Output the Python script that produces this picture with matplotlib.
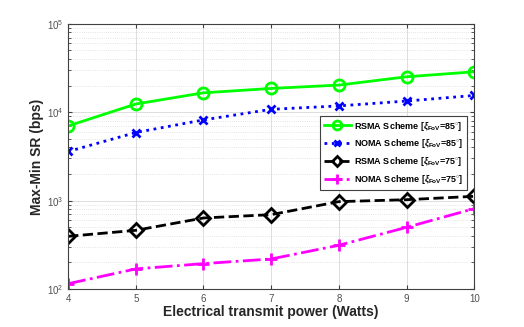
import matplotlib
matplotlib.use("Agg")
import matplotlib.pyplot as plt
import numpy as np

power = [4, 5, 6, 7, 8, 9, 10]
rsma_85 = [7000, 12400, 16600, 18600, 20300, 25200, 28700]
noma_85 = [3600, 5900, 8200, 10800, 11800, 13400, 15500]
rsma_75 = [395, 462, 637, 695, 975, 1026, 1120]
noma_75 = [115, 169, 194, 219, 313, 499, 813]

labels = [r'RSMA Scheme [$\xi_{\mathbf{FoV}}$=85$^{\circ}$]',
          r'NOMA Scheme [$\xi_{\mathbf{FoV}}$=85$^{\circ}$]',
          r'RSMA Scheme [$\xi_{\mathbf{FoV}}$=75$^{\circ}$]',
          r'NOMA Scheme [$\xi_{\mathbf{FoV}}$=75$^{\circ}$]']

plt.rcParams['font.family'] = ['Liberation Sans', 'DejaVu Sans']
plt.rcParams['mathtext.fontset'] = 'custom'
plt.rcParams['mathtext.rm'] = 'Liberation Sans:bold'
plt.rcParams['mathtext.it'] = 'Liberation Sans:italic:bold'
plt.rcParams['mathtext.bf'] = 'Liberation Sans:bold'

fig = plt.figure(figsize=(5.24, 3.27), dpi=100)
ax = fig.add_axes([0.130, 0.116, 0.775, 0.811])

ax.plot(power, rsma_85, color='#00ff00', linestyle='-', linewidth=2, marker='o',
        markersize=8, markerfacecolor='none', markeredgewidth=2, label=labels[0])
ax.plot(power, noma_85, color='#0000ff', linestyle=':', linewidth=2, marker='x',
        markersize=6, markeredgewidth=2, label=labels[1])
ax.plot(power, rsma_75, color='black', linestyle='--', linewidth=2, marker='D',
        markersize=7, markerfacecolor='none', markeredgewidth=2, label=labels[2])
ax.plot(power, noma_75, color='#ff00ff', linestyle='-.', linewidth=2, marker='+',
        markersize=9, markeredgewidth=2, label=labels[3])

ax.set_yscale('log')
ax.set_xlim(4, 10)
ax.set_ylim(1e2, 1e5)
ax.set_xticks(power)
ax.grid(True, which='major', color='#d8d8d8', linewidth=0.6)
ax.grid(True, which='minor', color='#dcdcdc', linestyle=':', linewidth=0.6)
ax.tick_params(which='both', direction='in', top=True, right=True, colors='#404040',
               labelsize=7, labelcolor='#505050')
ax.tick_params(which='major', length=3)
ax.tick_params(which='minor', length=2)
for s in ax.spines.values():
    s.set_color('#404040')
    s.set_linewidth(0.8)

ax.set_xlabel('Electrical transmit power (Watts)', fontsize=10, fontweight='bold',
              color='#262626', labelpad=1)
ax.set_ylabel('Max-Min SR (bps)', fontsize=10, fontweight='bold', color='#262626',
              labelpad=2)

leg = ax.legend(loc='upper right', bbox_to_anchor=(0.983, 0.653),
                prop={'weight': 'bold', 'size': 6.5}, fancybox=False, framealpha=1,
                edgecolor='#404040', handlelength=3, labelspacing=0.55,
                borderpad=0.4, handletextpad=0.4, borderaxespad=0, markerscale=0.8)
leg.get_frame().set_linewidth(0.8)

fig.savefig('out.png', dpi=100)
